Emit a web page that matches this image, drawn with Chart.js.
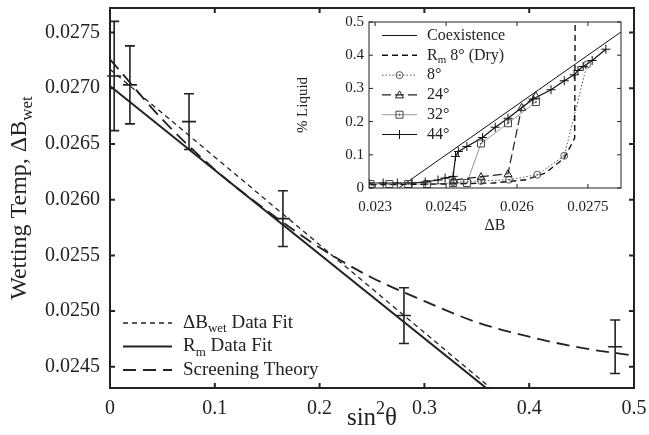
<!DOCTYPE html>
<html>
<head>
<meta charset="utf-8">
<script src="https://cdn.jsdelivr.net/npm/chart.js@4"></script>
<style>
  body { margin: 0; background: #fff; }
  #wrap { position: relative; width: 649px; height: 435px; }
  #main { position: absolute; left: 0; top: 0; }
  #inset { position: absolute; left: 290px; top: 10px; }
</style>
</head>
<body>
<div id="wrap">
  <canvas id="main" width="649" height="435"></canvas>
  <canvas id="inset" width="340" height="230"></canvas>
</div>
<script>
// ===== MAIN PLOT DATA =====
const xTicks = [0, 0.1, 0.2, 0.3, 0.4, 0.5];
const yTicks = [0.0245, 0.0250, 0.0255, 0.0260, 0.0265, 0.0270, 0.0275];

// measured wetting temps with error bars
const errX = [0.004, 0.019, 0.0754, 0.165, 0.2805, 0.482];
const errY = [0.02711, 0.02703, 0.02670, 0.02583, 0.02496, 0.02468];
const errE = [0.00049, 0.00035, 0.00025, 0.00025, 0.00025, 0.00024];

// fits (straight lines) and screening theory curve
const fitX = [0, 0.4];
const wetFitY = [0.02717, 0.02402];
const rmFitY = [0.02702, 0.02400];
const scrX = [0, 0.05, 0.1, 0.15, 0.2, 0.25, 0.3, 0.35, 0.4, 0.45, 0.5];
const scrY = [0.02726, 0.02672, 0.02627, 0.02590, 0.02557, 0.02530, 0.02509, 0.02490, 0.02477, 0.02467, 0.02460];

// ===== INSET DATA =====
const inXTicks = [0.023, 0.0245, 0.026, 0.0275];
const inYTicks = [0, 0.1, 0.2, 0.3, 0.4, 0.5];
const coexX = [0.0235, 0.0282];
const coexY = [0, 0.47];
const rmDryX = [0.0229, 0.0245, 0.0255, 0.0262, 0.0266, 0.0270, 0.02722, 0.02723];
const rmDryY = [0.010, 0.012, 0.015, 0.025, 0.045, 0.090, 0.150, 0.500];
const d8X = [0.02465, 0.02524, 0.02583, 0.02643, 0.0270, 0.02748];
const d8Y = [0.018, 0.021, 0.025, 0.040, 0.097, 0.372];
const d24X = [0.02467, 0.02524, 0.02581, 0.0261, 0.0264];
const d24Y = [0.024, 0.034, 0.043, 0.243, 0.278];
const d32X = [0.0229, 0.0233, 0.0237, 0.0241, 0.02465, 0.02494, 0.02524, 0.02581, 0.0264];
const d32Y = [0.012, 0.012, 0.012, 0.012, 0.015, 0.015, 0.134, 0.195, 0.259];
const d44X = [0.02287, 0.02317, 0.02347, 0.02378, 0.02406, 0.02433, 0.02448, 0.02465, 0.0247, 0.02476,
              0.02494, 0.02527, 0.02554, 0.02581, 0.02634, 0.02672, 0.027, 0.02721, 0.02729, 0.0274, 0.02759, 0.02788];
const d44Y = [0.015, 0.015, 0.015, 0.015, 0.018, 0.024, 0.030, 0.035, 0.095, 0.110,
              0.125, 0.152, 0.183, 0.210, 0.268, 0.296, 0.323, 0.341, 0.354, 0.366, 0.384, 0.418];

const SERIF = "'Liberation Serif', 'DejaVu Serif', serif";
const INK = '#222';
const pts = (xs, ys) => xs.map((x, i) => ({ x, y: ys[i] }));
// stop Chart.js from reserving room for half-labels at the axis ends
const noPad = s => { s.paddingTop = 0; s.paddingBottom = 0; s.paddingLeft = 0; s.paddingRight = 0; };

// text with sub/superscript pieces: [[text, 'n'|'sub'|'sup'], ...]
function richWidth(ctx, parts, size) {
  let w = 0;
  parts.forEach(([t, k]) => {
    ctx.font = (k === 'n' ? size : Math.round(size * 0.7)) + 'px ' + SERIF;
    w += ctx.measureText(t).width;
  });
  return w;
}
function drawRich(ctx, parts, x, y, size) {
  ctx.textAlign = 'left';
  ctx.textBaseline = 'middle';
  parts.forEach(([t, k]) => {
    const s = k === 'n' ? size : Math.round(size * 0.7);
    ctx.font = s + 'px ' + SERIF;
    const dy = k === 'sub' ? size * 0.3 : (k === 'sup' ? -size * 0.35 : 0);
    ctx.fillText(t, x, y + dy);
    x += ctx.measureText(t).width;
  });
}

// inward tick marks on all four sides + frame
function frameTicks(chart, len, lw) {
  const { ctx, chartArea: a, scales: { x, y } } = chart;
  ctx.save();
  ctx.strokeStyle = INK;
  ctx.lineWidth = lw;
  ctx.beginPath();
  x.ticks.forEach(t => {
    const px = x.getPixelForValue(t.value);
    ctx.moveTo(px, a.bottom); ctx.lineTo(px, a.bottom - len);
    ctx.moveTo(px, a.top); ctx.lineTo(px, a.top + len);
  });
  y.ticks.forEach(t => {
    const py = y.getPixelForValue(t.value);
    ctx.moveTo(a.left, py); ctx.lineTo(a.left + len, py);
    ctx.moveTo(a.right, py); ctx.lineTo(a.right - len, py);
  });
  ctx.stroke();
  ctx.strokeRect(a.left, a.top, a.right - a.left, a.bottom - a.top);
  ctx.restore();
}

const mainDecor = {
  id: 'mainDecor',
  afterDatasetsDraw(chart) {
    const { ctx, scales: { x, y } } = chart;
    ctx.save();
    ctx.strokeStyle = INK;
    ctx.lineWidth = 1.6;
    ctx.beginPath();
    errX.forEach((v, i) => {
      const px = x.getPixelForValue(v);
      const pt = y.getPixelForValue(errY[i] + errE[i]);
      const pb = y.getPixelForValue(errY[i] - errE[i]);
      const pc = y.getPixelForValue(errY[i]);
      ctx.moveTo(px, pt); ctx.lineTo(px, pb);
      ctx.moveTo(px - 5, pt); ctx.lineTo(px + 5, pt);
      ctx.moveTo(px - 5, pb); ctx.lineTo(px + 5, pb);
      ctx.moveTo(px - 7, pc); ctx.lineTo(px + 7, pc);
    });
    ctx.stroke();
    ctx.restore();
  },
  afterDraw(chart) {
    const { ctx, chartArea: a } = chart;
    frameTicks(chart, 5, 2);
    ctx.save();
    ctx.fillStyle = INK;
    // legend
    const entries = [
      { parts: [['ΔB', 'n'], ['wet', 'sub'], [' Data Fit', 'n']], dash: [5, 4], w: 1.3 },
      { parts: [['R', 'n'], ['m', 'sub'], [' Data Fit', 'n']], dash: [], w: 2 },
      { parts: [['Screening Theory', 'n']], dash: [13, 7], w: 1.8 }
    ];
    entries.forEach((e, i) => {
      const yy = a.top + 315 + i * 23.5;
      ctx.strokeStyle = INK;
      ctx.lineWidth = e.w;
      ctx.setLineDash(e.dash);
      ctx.beginPath();
      ctx.moveTo(a.left + 13, yy); ctx.lineTo(a.left + 62, yy);
      ctx.stroke();
      ctx.setLineDash([]);
      drawRich(ctx, e.parts, a.left + 73, yy, 19);
    });
    // y title (rotated)
    const yt = [['Wetting Temp, ΔB', 'n'], ['wet', 'sub']];
    const yw = richWidth(ctx, yt, 24);
    ctx.translate(20, (a.top + a.bottom) / 2);
    ctx.rotate(-Math.PI / 2);
    drawRich(ctx, yt, -yw / 2, 0, 24);
    ctx.setTransform(1, 0, 0, 1, 0, 0);
    // x title
    const xt = [['sin', 'n'], ['2', 'sup'], ['θ', 'n']];
    const xw = richWidth(ctx, xt, 25);
    drawRich(ctx, xt, (a.left + a.right) / 2 - xw / 2, 418, 25);
    ctx.restore();
  }
};

new Chart(document.getElementById('main'), {
  type: 'line',
  data: {
    datasets: [
      { data: pts(fitX, wetFitY), borderColor: INK, borderWidth: 1.3, borderDash: [5, 4], pointRadius: 0, clip: 0 },
      { data: pts(fitX, rmFitY), borderColor: INK, borderWidth: 2, pointRadius: 0, clip: 0 },
      { data: pts(scrX, scrY), borderColor: INK, borderWidth: 1.8, borderDash: [13, 7], pointRadius: 0,
        cubicInterpolationMode: 'monotone', clip: 0 }
    ]
  },
  options: {
    responsive: false, animation: false,
    layout: { padding: { top: 8, right: 15, left: 0, bottom: 0 } },
    plugins: { legend: { display: false }, tooltip: { enabled: false } },
    scales: {
      x: {
        type: 'linear', min: 0, max: 0.5,
        afterBuildTicks: s => { s.ticks = xTicks.map(v => ({ value: v })); },
        afterFit: s => { s.height = 47; noPad(s); },
        grid: { display: false, drawTicks: false }, border: { display: false },
        ticks: { padding: 9, color: INK, font: { family: SERIF, size: 20 }, maxRotation: 0,
                 callback: v => v === 0 ? '0' : String(v) }
      },
      y: {
        type: 'linear', min: 0.02431, max: 0.02772,
        afterBuildTicks: s => { s.ticks = yTicks.map(v => ({ value: v })); },
        afterFit: s => { s.width = 110; noPad(s); },
        grid: { display: false, drawTicks: false }, border: { display: false },
        ticks: { padding: 10, color: INK, font: { family: SERIF, size: 20 }, callback: v => v.toFixed(4) }
      }
    }
  },
  plugins: [mainDecor]
});

// ===== INSET =====
function marker(ctx, style, x, y) {
  ctx.beginPath();
  if (style === 'circle') {
    ctx.arc(x, y, 3.5, 0, Math.PI * 2);
    ctx.moveTo(x + 0.6, y); ctx.arc(x, y, 0.6, 0, Math.PI * 2);
  } else if (style === 'triangle') {
    ctx.moveTo(x, y - 4); ctx.lineTo(x + 4, y + 3); ctx.lineTo(x - 4, y + 3); ctx.closePath();
  } else if (style === 'rect') {
    ctx.rect(x - 3.5, y - 3.5, 7, 7);
    ctx.moveTo(x + 0.6, y); ctx.arc(x, y, 0.6, 0, Math.PI * 2);
  } else if (style === 'cross') {
    ctx.moveTo(x - 4.5, y); ctx.lineTo(x + 4.5, y);
    ctx.moveTo(x, y - 4.5); ctx.lineTo(x, y + 4.5);
  }
  ctx.stroke();
}

const inSeries = [
  { label: [['Coexistence', 'n']], x: coexX, y: coexY, color: '#111', w: 1, dash: [], mk: null },
  { label: [['R', 'n'], ['m', 'sub'], [' 8° (Dry)', 'n']], x: rmDryX, y: rmDryY, color: '#111', w: 1.4, dash: [6, 4], mk: null },
  { label: [['8°', 'n']], x: d8X, y: d8Y, color: '#555', w: 1, dash: [1.5, 2], mk: 'circle' },
  { label: [['24°', 'n']], x: d24X, y: d24Y, color: '#222', w: 1.2, dash: [9, 4], mk: 'triangle' },
  { label: [['32°', 'n']], x: d32X, y: d32Y, color: '#999', w: 1, dash: [], mk: 'rect' },
  { label: [['44°', 'n']], x: d44X, y: d44Y, color: '#111', w: 1.2, dash: [], mk: 'cross' }
];

const insetDecor = {
  id: 'insetDecor',
  afterDatasetsDraw(chart) {
    const { ctx, chartArea: a, scales: { x, y } } = chart;
    ctx.save();
    ctx.beginPath();
    ctx.rect(a.left, a.top, a.right - a.left, a.bottom - a.top);
    ctx.clip();
    inSeries.forEach(s => {
      if (!s.mk) return;
      ctx.strokeStyle = s.mk === 'rect' ? '#444' : s.color;
      ctx.lineWidth = 1;
      s.x.forEach((v, i) => marker(ctx, s.mk, x.getPixelForValue(v), y.getPixelForValue(s.y[i])));
    });
    ctx.restore();
  },
  afterDraw(chart) {
    const { ctx, chartArea: a } = chart;
    frameTicks(chart, 4, 1);
    ctx.save();
    ctx.fillStyle = INK;
    inSeries.forEach((s, i) => {
      const yy = a.top + 13.5 + i * 19.8;
      ctx.strokeStyle = s.color;
      ctx.lineWidth = s.w;
      ctx.setLineDash(s.dash);
      ctx.beginPath();
      ctx.moveTo(a.left + 13, yy); ctx.lineTo(a.left + 48, yy);
      ctx.stroke();
      ctx.setLineDash([]);
      if (s.mk) {
        ctx.strokeStyle = s.mk === 'rect' ? '#444' : s.color;
        ctx.lineWidth = 1;
        marker(ctx, s.mk, a.left + 30.5, yy);
      }
      ctx.fillStyle = INK;
      drawRich(ctx, s.label, a.left + 58, yy, 16);
    });
    // axis titles
    const xt = [['ΔB', 'n']];
    const xw = richWidth(ctx, xt, 16);
    drawRich(ctx, xt, (a.left + a.right) / 2 - xw / 2, 216, 16);
    const yt = [['% Liquid', 'n']];
    const yw = richWidth(ctx, yt, 15);
    ctx.translate(13, (a.top + a.bottom) / 2);
    ctx.rotate(-Math.PI / 2);
    drawRich(ctx, yt, -yw / 2, 0, 15);
    ctx.restore();
  }
};

new Chart(document.getElementById('inset'), {
  type: 'line',
  data: {
    datasets: inSeries.map(s => ({
      data: pts(s.x, s.y), borderColor: s.color, borderWidth: s.w, borderDash: s.dash,
      pointRadius: 0, tension: 0, clip: 0
    }))
  },
  options: {
    responsive: false, animation: false,
    layout: { padding: { top: 12, right: 9, left: 0, bottom: 0 } },
    plugins: { legend: { display: false }, tooltip: { enabled: false } },
    scales: {
      x: {
        type: 'linear', min: 0.02287, max: 0.0282,
        afterBuildTicks: s => { s.ticks = inXTicks.map(v => ({ value: v })); },
        afterFit: s => { s.height = 52; noPad(s); },
        grid: { display: false, drawTicks: false }, border: { display: false },
        ticks: { padding: 10, color: INK, font: { family: SERIF, size: 15 }, maxRotation: 0,
                 callback: v => String(v) }
      },
      y: {
        type: 'linear', min: 0, max: 0.5,
        afterBuildTicks: s => { s.ticks = inYTicks.map(v => ({ value: v })); },
        afterFit: s => { s.width = 79; noPad(s); },
        grid: { display: false, drawTicks: false }, border: { display: false },
        ticks: { padding: 5, color: INK, font: { family: SERIF, size: 15 },
                 callback: v => v === 0 ? '0' : v.toFixed(1) }
      }
    }
  },
  plugins: [insetDecor]
});
</script>
</body>
</html>
